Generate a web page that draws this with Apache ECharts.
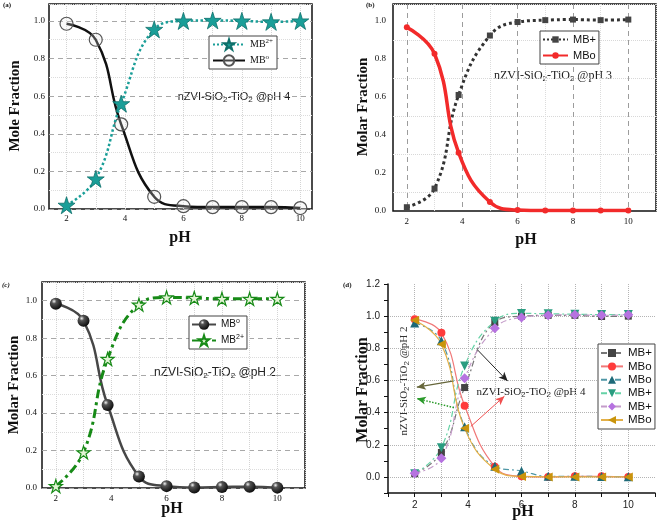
<!DOCTYPE html>
<html><head><meta charset="utf-8">
<script src="https://cdn.jsdelivr.net/npm/echarts@6/dist/echarts.min.js"></script>
<style>html,body{margin:0;padding:0;background:#fff}#c{width:660px;height:526px}</style>
</head><body><div id="c"></div>
<script>
// ---------- data ----------
const pH = [2, 3, 3.87, 5, 6, 7, 8, 9, 10];
// (a)
const aMB2 = [0.02, 0.16, 0.56, 0.955, 1.0, 1.003, 1.0, 0.995, 1.0];
const aMB0 = [0.985, 0.9, 0.45, 0.065, 0.015, 0.01, 0.01, 0.01, 0.005];
// (b)
const bMBp = [0.02, 0.118, 0.611, 0.924, 0.995, 1.005, 1.008, 1.005, 1.008];
const bMBo = [0.967, 0.828, 0.307, 0.047, 0.005, 0.002, 0.002, 0.002, 0.002];
// (c)
const cMB0 = [0.984, 0.893, 0.443, 0.062, 0.01, 0.003, 0.005, 0.007, 0.002];
const cMB2 = [0.01, 0.19, 0.689, 0.979, 1.018, 1.015, 1.01, 1.01, 1.01];
// (d)
const dMBp1 = [0.02, 0.152, 0.556, 0.962, 1.0, 1.005, 1.005, 0.998, 1.0];
const dMBo1 = [0.981, 0.896, 0.443, 0.064, 0.004, 0.0, 0.004, 0.004, 0.0];
const dMBo2 = [0.958, 0.847, 0.312, 0.067, 0.037, 0.004, 0.004, 0.002, 0.001];
const dMBp2 = [0.02, 0.182, 0.69, 0.969, 1.017, 1.015, 1.012, 1.01, 1.01];
const dMBp3 = [0.023, 0.116, 0.613, 0.924, 0.992, 1.005, 1.008, 1.005, 1.008];
const dMBo3 = [0.975, 0.826, 0.302, 0.048, 0.003, 0.0, 0.0, 0.0, 0.0];

// legend labels (rich text)
const LEG = {
  a1: '{n|MB}{p|2+}', a2: '{n|MB}{p|o}',
  b1: 'MB+', b2: 'MBo',
  c1: '{n|MB}{p|o}', c2: '{n|MB}{p|2+}',
  d1: 'MB+', d2: 'MBo', d3: 'MBo', d4: 'MB+', d5: 'MB+', d6: 'MBo'
};

// ---------- helpers ----------
const SERIF = 'Liberation Serif', SANS = 'Liberation Sans';
const T = 'rgba(0,0,0,0)';
const STAR = 'path://M0,-10L2.245,-3.09L9.511,-3.09L3.633,1.18L5.878,8.09L0,3.82L-5.878,8.09L-3.633,1.18L-9.511,-3.09L-2.245,-3.09Z';
const SM = 0.45;
const pairs = arr => pH.map((x, i) => [x, arr[i]]);
const cyc = (n, on, c) => Array.from({length: n}, (_, i) => i === on ? c : T);
const isInt = v => Math.abs(v - Math.round(v)) < 1e-6;
const xLab = v => (isInt(v) && Math.round(v) % 2 === 0) ? String(Math.round(v)) : '';
const yLab = v => (Math.abs(v * 5 - Math.round(v * 5)) < 1e-6 && v > -1e-6) ? v.toFixed(1) : '';

function ax(o) {
  return Object.assign({type: 'value', axisLine: {show: false, onZero: false}, axisTick: {show: false}}, o);
}

const richSub = {
  n: {lineHeight: 14},
  s: {fontSize: 8, lineHeight: 8, padding: [6, 0, 0, 0]}
};

const option = {
  animation: false,
  backgroundColor: '#fff',
  grid: [
    {left: 49, top: 4, width: 263, height: 205, show: true, borderColor: '#111', borderWidth: 1.5, backgroundColor: '#fff'},
    {left: 393, top: 4, width: 263, height: 207, show: true, borderColor: '#111', borderWidth: 1.5, backgroundColor: '#fff'},
    {left: 42, top: 282, width: 263, height: 206, show: true, borderColor: '#111', borderWidth: 1.5, backgroundColor: '#fff'},
    {left: 388, top: 284, width: 267, height: 209}
  ],
  xAxis: [
    ax({gridIndex: 0, min: 1.4, max: 10.4, interval: 0.2,
      axisLabel: {formatter: xLab, fontFamily: SERIF, fontSize: 9, color: '#111', margin: 5},
      splitLine: {show: true, lineStyle: {color: cyc(5, 3, '#d4d4d4'), type: 'dotted'}}}),
    ax({gridIndex: 1, min: 1.5, max: 11, interval: 0.5,
      axisLabel: {formatter: xLab, fontFamily: SERIF, fontSize: 9, color: '#111', margin: 6},
      splitLine: {show: true, lineStyle: {color: cyc(4, 1, '#9c9c9c'), type: [5, 4]}}}),
    ax({gridIndex: 1, min: 1.5, max: 11, interval: 0.5, position: 'bottom',
      axisLabel: {show: false},
      splitLine: {show: true, lineStyle: {color: cyc(4, 3, '#dcdcdc'), type: 'dotted'}}}),
    ax({gridIndex: 2, min: 1.5, max: 11, interval: 0.5,
      axisLabel: {formatter: xLab, fontFamily: SERIF, fontSize: 9, color: '#111', margin: 6},
      splitLine: {show: true, lineStyle: {color: cyc(2, 1, '#d4d4d4'), type: 'dotted'}}}),
    ax({gridIndex: 3, min: 1, max: 11, interval: 1,
      axisLine: {show: true, onZero: false, lineStyle: {color: '#111', width: 1.5}},
      axisTick: {show: true, length: 4, lineStyle: {color: '#111'}},
      axisLabel: {formatter: xLab, fontFamily: SANS, fontSize: 10, color: '#222', margin: 7},
      splitLine: {show: true, lineStyle: {color: [T, '#b4b4b4', '#b4b4b4', '#b4b4b4', '#b4b4b4', '#b4b4b4', '#b4b4b4', '#b4b4b4', '#b4b4b4', '#b4b4b4', T], type: 'dotted'}}})
  ],
  yAxis: [
    ax({gridIndex: 0, min: 0, max: 1.09, interval: 0.2,
      axisLabel: {formatter: yLab, fontFamily: SERIF, fontSize: 9, color: '#111', margin: 4},
      splitLine: {show: true, lineStyle: {color: '#a8a8a8', type: [5, 4]}}}),
    ax({gridIndex: 0, min: 0, max: 1.09, interval: 0.1, position: 'left',
      axisLabel: {show: false},
      splitLine: {show: true, lineStyle: {color: cyc(2, 1, '#dcdcdc'), type: 'dotted'}}}),
    ax({gridIndex: 1, min: 0, max: 1.09, interval: 0.1,
      axisLabel: {formatter: yLab, fontFamily: SERIF, fontSize: 9, color: '#111', margin: 7},
      splitLine: {show: true, lineStyle: {color: cyc(2, 1, '#d8d8d8'), type: 'dotted'}}}),
    ax({gridIndex: 2, min: 0, max: 1.1, interval: 0.2,
      axisLabel: {formatter: yLab, fontFamily: SERIF, fontSize: 9, color: '#111', margin: 5},
      splitLine: {show: true, lineStyle: {color: '#a8a8a8', type: [5, 4]}}}),
    ax({gridIndex: 2, min: 0, max: 1.1, interval: 0.1, position: 'left',
      axisLabel: {show: false},
      splitLine: {show: true, lineStyle: {color: cyc(2, 1, '#dcdcdc'), type: 'dotted'}}}),
    ax({gridIndex: 3, min: -0.1, max: 1.2, interval: 0.1,
      axisLine: {show: true, onZero: false, lineStyle: {color: '#111', width: 1.5}},
      axisTick: {show: true, length: 4, lineStyle: {color: '#111'}},
      axisLabel: {formatter: yLab, fontFamily: SANS, fontSize: 10, color: '#222', margin: 8},
      splitLine: {show: true, lineStyle: {color: [T, '#b4b4b4', T, '#b4b4b4', T, '#b4b4b4', T, '#b4b4b4', T, '#b4b4b4', T, '#b4b4b4', T, T], type: 'dotted'}}})
  ],
  legend: [
    {data: ['a1', 'a2'], orient: 'vertical', left: 209, top: 36, itemWidth: 32, itemHeight: 13, itemGap: 3,
      padding: [2, 4, 2, 3], borderColor: '#444', borderWidth: 1, backgroundColor: '#fff', selectedMode: false,
      formatter: n => LEG[n],
      textStyle: {fontFamily: SERIF, fontSize: 10, color: '#111',
        rich: {n: {fontFamily: SERIF, fontSize: 10, lineHeight: 12}, p: {fontFamily: SERIF, fontSize: 7, lineHeight: 7, padding: [0, 0, 6, 0]}}}},
    {data: ['b1', 'b2'], orient: 'vertical', left: 540, top: 31, itemWidth: 25, itemHeight: 8, itemGap: 5,
      padding: [3, 3, 3, 2], borderColor: '#444', borderWidth: 1, backgroundColor: '#fff', selectedMode: false,
      formatter: n => LEG[n], textStyle: {fontFamily: SANS, fontSize: 11, color: '#111', lineHeight: 10}},
    {data: ['c1', 'c2'], orient: 'vertical', left: 189, top: 316, itemWidth: 24, itemHeight: 13, itemGap: 3,
      padding: [2, 3, 2, 2], borderColor: '#444', borderWidth: 1, backgroundColor: '#fff', selectedMode: false,
      formatter: n => LEG[n],
      textStyle: {fontFamily: SANS, fontSize: 10, color: '#111',
        rich: {n: {fontFamily: SANS, fontSize: 10, lineHeight: 12}, p: {fontFamily: SANS, fontSize: 7, lineHeight: 7, padding: [0, 0, 6, 0]}}}},
    {data: ['d1', 'd2', 'd3', 'd4', 'd5', 'd6'], orient: 'vertical', left: 598, top: 344, itemWidth: 22, itemHeight: 10, itemGap: 1.4,
      padding: [3, 3, 3, 2], borderColor: '#444', borderWidth: 1, backgroundColor: '#fff', selectedMode: false,
      formatter: n => LEG[n], textStyle: {fontFamily: SANS, fontSize: 11.5, color: '#111', lineHeight: 11}}
  ],
  series: [
    // (a)
    {name: 'a1', type: 'line', xAxisIndex: 0, yAxisIndex: 0, data: pairs(aMB2), smooth: SM,
      symbol: STAR, symbolSize: 17, itemStyle: {color: '#1a9e98', borderColor: '#0e706b', borderWidth: 0.8},
      lineStyle: {color: '#1a9e98', width: 2.5, type: 'dotted'}, z: 3},
    {name: 'a2', type: 'line', xAxisIndex: 0, yAxisIndex: 0, data: pairs(aMB0), smooth: SM,
      symbol: 'circle', symbolSize: 13, itemStyle: {color: 'rgba(230,230,230,0.25)', borderColor: '#555', borderWidth: 1.2},
      lineStyle: {color: '#111', width: 2.5}, z: 2},
    // (b)
    {name: 'b1', type: 'line', xAxisIndex: 1, yAxisIndex: 2, data: pairs(bMBp), smooth: SM,
      symbol: 'rect', symbolSize: 6, itemStyle: {color: '#444'},
      lineStyle: {color: '#333', width: 3, type: 'dotted'}},
    {name: 'b2', type: 'line', xAxisIndex: 1, yAxisIndex: 2, data: pairs(bMBo), smooth: SM,
      symbol: 'circle', symbolSize: 6, itemStyle: {color: '#f22a2a'},
      lineStyle: {color: '#f22a2a', width: 3.5}},
    // (c)
    {name: 'c1', type: 'line', xAxisIndex: 3, yAxisIndex: 3, data: pairs(cMB0), smooth: SM,
      symbol: 'circle', symbolSize: 12,
      itemStyle: {color: {type: 'radial', x: 0.35, y: 0.3, r: 0.8, colorStops: [{offset: 0, color: '#f4f4f4'}, {offset: 0.25, color: '#555'}, {offset: 1, color: '#000'}]}},
      lineStyle: {color: '#474747', width: 2.5}},
    {name: 'c2', type: 'line', xAxisIndex: 3, yAxisIndex: 3, data: pairs(cMB2), smooth: SM,
      symbol: STAR, symbolSize: 13, itemStyle: {color: '#e2f4d4', borderColor: '#178a17', borderWidth: 1.2},
      lineStyle: {color: '#178a17', width: 3, type: [9, 4, 3, 4]}},
    // (d)
    {name: 'd1', type: 'line', xAxisIndex: 4, yAxisIndex: 5, data: pairs(dMBp1), smooth: SM,
      symbol: 'rect', symbolSize: 7, itemStyle: {color: '#444'},
      lineStyle: {color: '#777', width: 1.2, type: [6, 3, 2, 3]},
      markLine: {silent: true, symbol: ['none', 'arrow'], symbolSize: [6, 9], label: {show: false},
        data: [
          [{coord: [3.42, 0.596], lineStyle: {color: '#66663a', width: 1.3, type: 'solid'}, itemStyle: {color: '#66663a'}}, {coord: [2.08, 0.558]}],
          [{coord: [3.47, 0.431], lineStyle: {color: '#2a9a2a', width: 1.5, type: 'dotted'}, itemStyle: {color: '#2a9a2a'}}, {coord: [2.08, 0.4875]}],
          [{coord: [4.36, 0.789], lineStyle: {color: '#222', width: 1, type: 'solid'}, itemStyle: {color: '#222'}}, {coord: [5.48, 0.596]}],
          [{coord: [4.1, 0.314], lineStyle: {color: '#f05050', width: 1, type: 'solid'}, itemStyle: {color: '#f05050'}}, {coord: [5.36, 0.502]}]
        ]}},
    {name: 'd2', type: 'line', xAxisIndex: 4, yAxisIndex: 5, data: pairs(dMBo1), smooth: SM,
      symbol: 'circle', symbolSize: 8, itemStyle: {color: '#ff3b3b'},
      lineStyle: {color: '#f07878', width: 1.2}},
    {name: 'd3', type: 'line', xAxisIndex: 4, yAxisIndex: 5, data: pairs(dMBo2), smooth: SM,
      symbol: 'triangle', symbolSize: 9, itemStyle: {color: '#1e6a78'},
      lineStyle: {color: '#4f97a6', width: 1.2, type: [6, 3, 2, 3]}},
    {name: 'd4', type: 'line', xAxisIndex: 4, yAxisIndex: 5, data: pairs(dMBp2), smooth: SM,
      symbol: 'triangle', symbolRotate: 180, symbolSize: 9, itemStyle: {color: '#2a9c80'},
      lineStyle: {color: '#66d2a6', width: 1.2, type: [6, 3, 2, 3]}},
    {name: 'd5', type: 'line', xAxisIndex: 4, yAxisIndex: 5, data: pairs(dMBp3), smooth: SM,
      symbol: 'diamond', symbolSize: 10, itemStyle: {color: '#b672e0'},
      lineStyle: {color: '#c49cc9', width: 1.2, type: [6, 3, 2, 3]}},
    {name: 'd6', type: 'line', xAxisIndex: 4, yAxisIndex: 5, data: pairs(dMBo3), smooth: SM,
      symbol: 'triangle', symbolRotate: 90, symbolSize: 9, itemStyle: {color: '#c9940c'},
      lineStyle: {color: '#e3b048', width: 1.2}}
  ],
  graphic: [
    {type: 'text', x: 3, y: 2, style: {text: '(a)', font: 'bold 7px ' + SERIF, fill: '#111'}},
    {type: 'text', x: 366, y: 2, style: {text: '(b)', font: 'bold 7px ' + SERIF, fill: '#111'}},
    {type: 'text', x: 2, y: 282, style: {text: '(c)', font: 'italic bold 7px ' + SERIF, fill: '#111'}},
    {type: 'text', x: 343, y: 282, style: {text: '(d)', font: 'bold 7px ' + SERIF, fill: '#111'}},
    // axis titles
    {type: 'text', x: 15, y: 106, rotation: Math.PI / 2, style: {text: 'Mole Fraction', font: 'bold 15px ' + SERIF, fill: '#111', align: 'center', verticalAlign: 'middle'}},
    {type: 'text', x: 180, y: 238, style: {text: 'pH', font: 'bold 16px ' + SERIF, fill: '#111', align: 'center', verticalAlign: 'middle'}},
    {type: 'text', x: 363, y: 107, rotation: Math.PI / 2, style: {text: 'Molar Fraction', font: 'bold 15px ' + SERIF, fill: '#111', align: 'center', verticalAlign: 'middle'}},
    {type: 'text', x: 526, y: 240, style: {text: 'pH', font: 'bold 16px ' + SERIF, fill: '#111', align: 'center', verticalAlign: 'middle'}},
    {type: 'text', x: 14, y: 385, rotation: Math.PI / 2, style: {text: 'Molar Fraction', font: 'bold 15px ' + SERIF, fill: '#111', align: 'center', verticalAlign: 'middle'}},
    {type: 'text', x: 172, y: 509, style: {text: 'pH', font: 'bold 16px ' + SERIF, fill: '#111', align: 'center', verticalAlign: 'middle'}},
    {type: 'text', x: 363, y: 390, rotation: Math.PI / 2, style: {text: 'Molar Fraction', font: 'bold 16px ' + SERIF, fill: '#111', align: 'center', verticalAlign: 'middle'}},
    {type: 'text', x: 523, y: 512, style: {text: 'pH', font: 'bold 16px ' + SERIF, fill: '#111', align: 'center', verticalAlign: 'middle'}},
    // annotations
    {type: 'text', x: 234, y: 97, style: {text: '{n|nZVI-SiO}{s|2}{n|-TiO}{s|2}{n| @pH 4}', fontFamily: SANS, fontSize: 11, fill: '#222', align: 'center', verticalAlign: 'middle', rich: richSub}},
    {type: 'text', x: 553, y: 76, style: {text: '{n|nZVI-SiO}{s|2}{n|-TiO}{s|2}{n| @pH 3}', fontFamily: SERIF, fontSize: 12, fill: '#222', align: 'center', verticalAlign: 'middle', rich: richSub}},
    {type: 'text', x: 215, y: 373, style: {text: '{n|nZVI-SiO}{s|2}{n|-TiO}{s|2}{n| @pH 2}', fontFamily: SANS, fontSize: 12, fill: '#222', align: 'center', verticalAlign: 'middle', rich: richSub}},
    {type: 'text', x: 531, y: 392, style: {text: '{n|nZVI-SiO}{s|2}{n|-TiO}{s|2}{n| @pH 4}', fontFamily: SERIF, fontSize: 11, fill: '#222', align: 'center', verticalAlign: 'middle', rich: richSub}},
    {type: 'text', x: 404, y: 381, rotation: Math.PI / 2, style: {text: '{n|nZVI-SiO}{s|2}{n|-TiO}{s|2}{n| @pH 2}', fontFamily: SERIF, fontSize: 11, fill: '#333', align: 'center', verticalAlign: 'middle', rich: richSub}}
  ]
};

const chart = echarts.init(document.getElementById('c'), null, {renderer: 'canvas'});
chart.setOption(option);
</script>
</body></html>
